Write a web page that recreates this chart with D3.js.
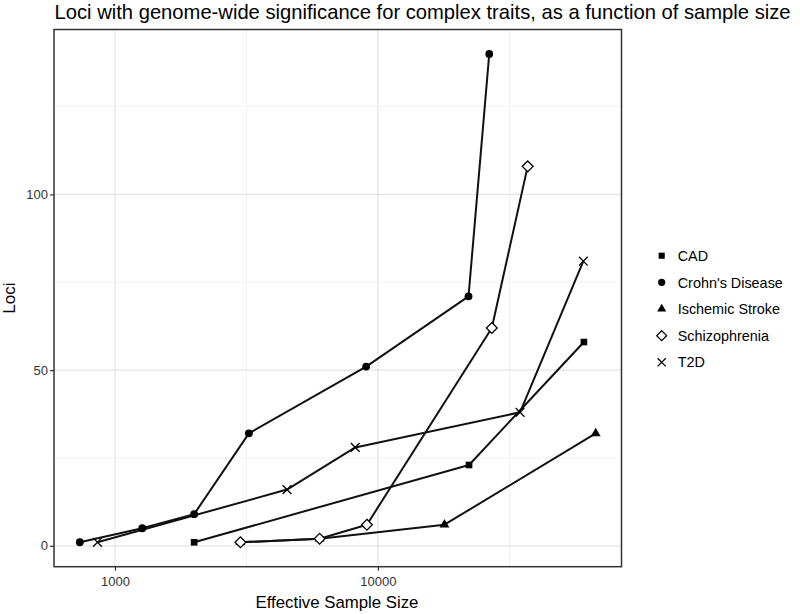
<!DOCTYPE html>
<meta charset="utf-8">
<style>
  body { margin: 0; background: #fff; }
  svg text { font-family: "Liberation Sans", Arial, sans-serif; }
</style>
<svg width="800" height="614"></svg>
<script src="https://cdn.jsdelivr.net/npm/d3@7"></script>
<script>
// data (effective sample size, loci)
var seriesNames = ["CAD", "Crohn's Disease", "Ischemic Stroke", "Schizophrenia", "T2D"];

var cadN = [2000, 22200, 60700];
var cadLoci = [1, 23, 58];

var crohnN = [735, 1270, 2000, 3230, 9020, 22100, 26500];
var crohnLoci = [1, 5, 9, 32, 51, 71, 140];

var strokeN = [3000, 6000, 17900, 67300];
var strokeLoci = [1, 2, 6, 32];

var schizoN = [3000, 6000, 9080, 27100, 37100];
var schizoLoci = [1, 2, 6, 62, 108];

var t2dN = [858, 4510, 8200, 34700, 60400];
var t2dLoci = [1, 16, 28, 38, 81];

var xTicks = [1000, 10000];
var xMinor = [3162.28, 31622.8];
var yTicks = [0, 50, 100];
var yMinor = [25, 75, 125];

function pairs(xs, ys) { return xs.map(function(v, i) { return {n: v, loci: ys[i]}; }); }

var series = [
  {name: seriesNames[0], values: pairs(cadN, cadLoci), shape: "square"},
  {name: seriesNames[1], values: pairs(crohnN, crohnLoci), shape: "circle"},
  {name: seriesNames[2], values: pairs(strokeN, strokeLoci), shape: "triangle"},
  {name: seriesNames[3], values: pairs(schizoN, schizoLoci), shape: "diamond"},
  {name: seriesNames[4], values: pairs(t2dN, t2dLoci), shape: "cross"}
];

var svg = d3.select("svg");
var panel = {left: 54, right: 621.5, top: 29.5, bottom: 566.7};

// ggplot style 5% expansion
var all = [].concat.apply([], series.map(function(s) { return s.values; }));
var lx = d3.extent(all, function(d) { return Math.log10(d.n); });
var padX = (lx[1] - lx[0]) * 0.05;
var x = d3.scaleLog()
    .domain([Math.pow(10, lx[0] - padX), Math.pow(10, lx[1] + padX)])
    .range([panel.left, panel.right]);

var ly = d3.extent(all, function(d) { return d.loci; });
var padY = (ly[1] - ly[0]) * 0.05;
var y = d3.scaleLinear()
    .domain([ly[0] - padY, ly[1] + padY])
    .range([panel.bottom, panel.top]);

// panel background + grid
svg.append("rect")
    .attr("x", panel.left).attr("y", panel.top)
    .attr("width", panel.right - panel.left).attr("height", panel.bottom - panel.top)
    .attr("fill", "#fff");

var grid = svg.append("g").attr("class", "grid");
grid.selectAll(".xminor").data(xMinor).enter().append("line")
    .attr("x1", function(d) { return x(d); }).attr("x2", function(d) { return x(d); })
    .attr("y1", panel.top).attr("y2", panel.bottom)
    .attr("stroke", "#f2f2f2").attr("stroke-width", 1);
grid.selectAll(".yminor").data(yMinor).enter().append("line")
    .attr("y1", function(d) { return y(d); }).attr("y2", function(d) { return y(d); })
    .attr("x1", panel.left).attr("x2", panel.right)
    .attr("stroke", "#f2f2f2").attr("stroke-width", 1);
grid.selectAll(".xmajor").data(xTicks).enter().append("line")
    .attr("x1", function(d) { return x(d); }).attr("x2", function(d) { return x(d); })
    .attr("y1", panel.top).attr("y2", panel.bottom)
    .attr("stroke", "#e4e4e4").attr("stroke-width", 1.2);
grid.selectAll(".ymajor").data(yTicks).enter().append("line")
    .attr("y1", function(d) { return y(d); }).attr("y2", function(d) { return y(d); })
    .attr("x1", panel.left).attr("x2", panel.right)
    .attr("stroke", "#e4e4e4").attr("stroke-width", 1.2);

// lines
var line = d3.line()
    .x(function(d) { return x(d.n); })
    .y(function(d) { return y(d.loci); });

svg.append("g").selectAll("path")
    .data(series)
    .enter().append("path")
      .attr("d", function(s) { return line(s.values); })
      .attr("fill", "none")
      .attr("stroke", "#111")
      .attr("stroke-width", 2)
      .attr("stroke-linejoin", "round");

// point shapes
function drawShape(sel, shape, scale) {
  var k = scale || 1;
  if (shape === "square") {
    sel.append("path").attr("d", d3.symbol(d3.symbolSquare, 44 * k)()).attr("fill", "#000");
  } else if (shape === "circle") {
    sel.append("path").attr("d", d3.symbol(d3.symbolCircle, 48 * k)()).attr("fill", "#000");
  } else if (shape === "triangle") {
    sel.append("path").attr("d", d3.symbol(d3.symbolTriangle, 42 * k)()).attr("fill", "#000");
  } else if (shape === "diamond") {
    var r = 5.4 * Math.sqrt(k);
    sel.append("path").attr("d", "M0," + (-r) + "L" + r + ",0L0," + r + "L" + (-r) + ",0Z")
        .attr("fill", "#fff").attr("stroke", "#000").attr("stroke-width", 1.3);
  } else {
    var c = 4.4 * Math.sqrt(k);
    sel.append("path").attr("d", "M" + (-c) + "," + (-c) + "L" + c + "," + c + "M" + (-c) + "," + c + "L" + c + "," + (-c))
        .attr("fill", "none").attr("stroke", "#000").attr("stroke-width", 1.3);
  }
}

series.forEach(function(s) {
  svg.append("g").selectAll("g")
      .data(s.values)
      .enter().append("g")
        .attr("transform", function(d) { return "translate(" + x(d.n) + "," + y(d.loci) + ")"; })
        .each(function() { drawShape(d3.select(this), s.shape); });
});

// border
svg.append("rect")
    .attr("x", panel.left).attr("y", panel.top)
    .attr("width", panel.right - panel.left).attr("height", panel.bottom - panel.top)
    .attr("fill", "none").attr("stroke", "#333").attr("stroke-width", 1.5);

// axes
var xAxis = svg.append("g")
    .attr("transform", "translate(0," + panel.bottom + ")")
    .call(d3.axisBottom(x).tickValues(xTicks).tickFormat(d3.format("d")).tickSize(4).tickSizeOuter(0));
var yAxis = svg.append("g")
    .attr("transform", "translate(" + panel.left + ",0)")
    .call(d3.axisLeft(y).tickValues(yTicks).tickSize(4).tickSizeOuter(0));

[xAxis, yAxis].forEach(function(a) {
  a.select(".domain").remove();
  a.selectAll(".tick line").attr("stroke", "#333").attr("stroke-width", 1.2);
  a.selectAll(".tick text")
      .attr("fill", "#333")
      .style("font-size", "13px")
      .style("font-family", "'Liberation Sans', Arial, sans-serif");
});
xAxis.selectAll(".tick text").attr("y", 10);
yAxis.selectAll(".tick text").attr("x", -6);

// titles
svg.append("text")
    .attr("x", 54.5).attr("y", 18.5)
    .style("font-size", "20.2px")
    .attr("fill", "#000")
    .text("Loci with genome-wide significance for complex traits, as a function of sample size");

svg.append("text")
    .attr("x", 337).attr("y", 607.5)
    .attr("text-anchor", "middle")
    .style("font-size", "16.8px")
    .text("Effective Sample Size");

svg.append("text")
    .attr("transform", "translate(15," + ((panel.top + panel.bottom) / 2) + ") rotate(-90)")
    .attr("text-anchor", "middle")
    .style("font-size", "17px")
    .text("Loci");

// legend
var legend = svg.append("g").selectAll("g")
    .data(series)
    .enter().append("g")
      .attr("transform", function(d, i) { return "translate(661.7," + (255.7 + i * 26.65) + ")"; });

legend.each(function(s) { drawShape(d3.select(this), s.shape, 0.85); });

legend.append("text")
    .attr("x", 16)
    .attr("dy", "0.36em")
    .style("font-size", "14.4px")
    .text(function(d) { return d.name; });
</script>
